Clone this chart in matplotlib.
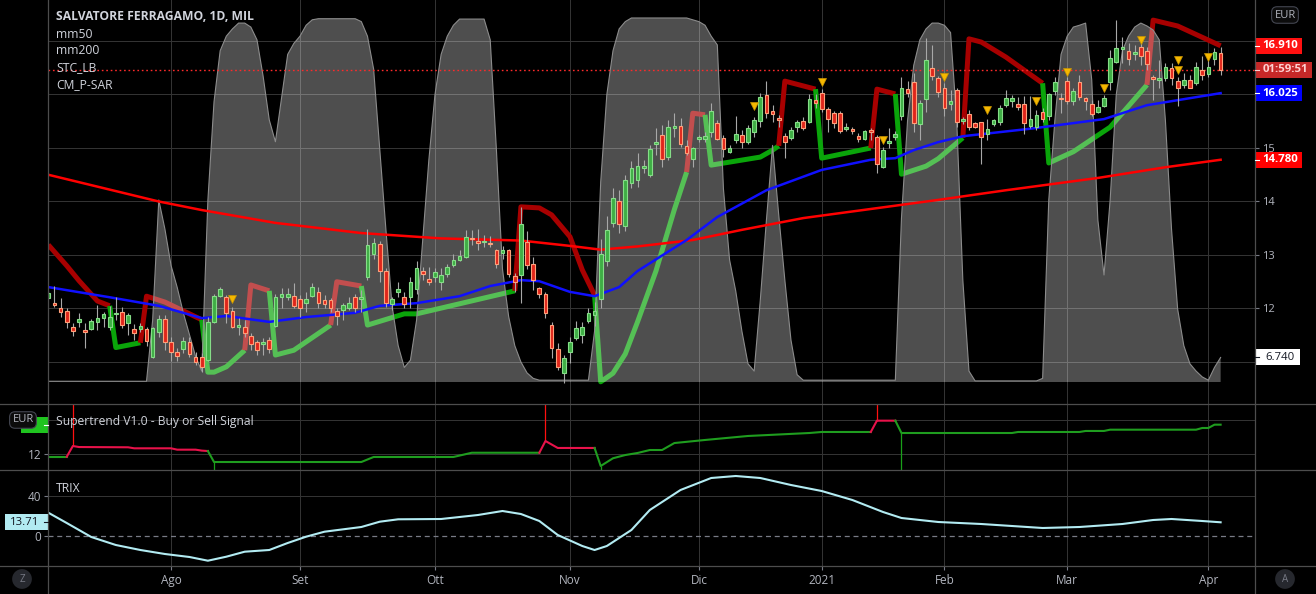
import matplotlib
matplotlib.use('Agg')
import matplotlib.pyplot as plt
import matplotlib.transforms as mtransforms
from matplotlib.patches import Rectangle
from matplotlib.lines import Line2D
import numpy as np
import pandas as pd

W, H = 1316, 594
plt.rcParams['font.family'] = ['Open Sans', 'DejaVu Sans']

# ---------------------------------------------------------------- data
holidays = ['2020-12-24', '2020-12-25', '2020-12-31', '2021-01-01', '2021-04-02', '2021-04-05']
month_names = {1: '2021', 2: 'Feb', 3: 'Mar', 4: 'Apr', 8: 'Ago', 9: 'Set', 10: 'Ott', 11: 'Nov', 12: 'Dic'}

opens = [
    12.20, 12.09, 12.01, 11.95, 11.65, 11.75, 11.59, 11.61, 11.75, 11.82, 11.65, 11.89,
    11.94, 11.72, 11.61, 11.61, 11.61, 11.09, 11.57, 11.80, 11.38, 11.18, 11.24, 11.38,
    11.09, 11.09, 11.04, 11.75, 12.24, 12.21, 11.96, 11.66, 11.65, 11.49, 11.37, 11.34,
    11.42, 11.68, 12.22, 12.22, 12.23, 12.17, 12.10, 12.24, 12.30, 12.15, 12.15, 11.96,
    11.97, 12.01, 12.21, 12.18, 12.59, 13.02, 13.21, 12.71, 12.08, 12.30, 12.21, 12.21,
    12.36, 12.71, 12.56, 12.58, 12.50, 12.64, 12.81, 12.91, 12.97, 13.32, 13.25, 13.24,
    13.22, 13.09, 13.04, 13.09, 12.61, 12.63, 13.25, 12.84, 12.38, 12.28, 11.69, 11.24,
    10.79, 11.18, 11.44, 11.50, 11.77, 11.87, 12.17, 12.89, 13.59, 14.01, 13.55, 14.35,
    14.41, 14.62, 14.50, 15.08, 15.24, 14.84, 15.38, 15.41, 15.04, 14.79, 15.17, 15.17,
    15.29, 15.46, 15.18, 14.93, 15.14, 15.24, 15.11, 15.29, 15.51, 15.99, 15.69, 15.55,
    15.23, 15.19, 15.40, 15.50, 15.49, 15.90, 16.03, 15.72, 15.65, 15.65, 15.35, 15.35,
    15.23, 15.16, 15.33, 15.21, 14.65, 15.09, 15.20, 15.59, 16.10, 16.23, 15.44, 15.91,
    16.49, 16.30, 16.12, 15.83, 16.08, 15.50, 15.63, 15.46, 15.48, 15.27, 15.44, 15.48,
    15.80, 15.87, 15.83, 15.83, 15.41, 15.39, 15.68, 15.59, 16.07, 15.93, 16.25, 15.87,
    16.23, 15.93, 15.83, 15.67, 15.79, 16.24, 16.61, 16.85, 16.82, 16.76, 16.88, 16.82,
    16.32, 16.28, 16.30, 16.49, 16.25, 16.18, 16.27, 16.21, 16.46, 16.38, 16.66, 16.78,
]
highs = [
    12.32, 12.42, 12.19, 12.00, 11.72, 11.91, 11.72, 11.80, 12.07, 11.94, 12.04, 12.22,
    12.03, 11.91, 11.71, 11.72, 11.66, 11.66, 11.88, 11.88, 11.47, 11.26, 11.47, 11.47,
    11.19, 11.16, 11.85, 12.28, 12.41, 12.25, 12.03, 11.82, 11.78, 11.54, 11.42, 11.44,
    11.47, 12.27, 12.38, 12.38, 12.47, 12.25, 12.31, 12.47, 12.40, 12.25, 12.19, 12.00,
    12.10, 12.22, 12.28, 12.35, 13.48, 13.31, 13.27, 12.75, 12.22, 12.50, 12.31, 12.59,
    12.88, 12.77, 12.77, 12.75, 12.75, 12.84, 13.02, 13.09, 13.47, 13.47, 13.48, 13.37,
    13.36, 13.12, 13.17, 13.12, 12.67, 13.90, 13.45, 12.96, 12.41, 12.31, 11.75, 11.36,
    11.13, 11.47, 11.77, 11.75, 12.00, 12.13, 13.29, 13.73, 14.25, 14.21, 14.50, 14.75,
    14.90, 14.78, 15.06, 15.37, 15.43, 15.52, 15.65, 15.56, 15.15, 15.02, 15.25, 15.30,
    15.85, 15.52, 15.24, 15.05, 15.59, 15.34, 15.43, 15.58, 16.02, 16.26, 15.80, 15.62,
    15.28, 15.40, 15.52, 15.58, 16.00, 16.00, 16.10, 15.77, 15.69, 15.69, 15.47, 15.39,
    15.28, 15.34, 15.37, 15.24, 15.01, 15.37, 15.31, 16.33, 16.25, 16.40, 15.90, 17.05,
    16.93, 16.35, 16.21, 16.08, 16.12, 15.58, 15.71, 15.49, 15.49, 15.55, 15.55, 15.80,
    16.08, 15.99, 15.96, 15.97, 15.97, 15.71, 15.74, 16.02, 16.33, 16.02, 16.33, 16.13,
    16.36, 15.96, 15.90, 15.90, 15.99, 16.83, 17.39, 17.08, 16.96, 16.93, 16.96, 16.89,
    16.36, 16.64, 16.58, 16.58, 16.33, 16.40, 16.36, 16.61, 16.71, 16.68, 16.86, 16.88,
]
lows = [
    12.17, 12.02, 11.85, 11.63, 11.49, 11.66, 11.26, 11.60, 11.59, 11.66, 11.60, 11.79,
    11.63, 11.50, 11.42, 11.57, 11.29, 11.07, 11.47, 11.22, 11.01, 11.01, 11.16, 11.10,
    10.94, 10.82, 11.01, 11.72, 12.22, 11.72, 11.63, 11.50, 11.47, 11.22, 11.13, 11.13,
    11.16, 11.66, 12.00, 12.16, 12.00, 11.84, 11.94, 12.22, 12.00, 12.00, 11.94, 11.69,
    11.79, 11.97, 11.94, 11.94, 12.53, 12.92, 12.50, 12.03, 11.97, 12.22, 12.00, 12.00,
    12.28, 12.53, 12.44, 12.50, 12.35, 12.58, 12.77, 12.88, 12.94, 13.19, 13.09, 13.15,
    13.15, 12.75, 12.92, 12.59, 12.31, 12.10, 12.73, 12.35, 12.19, 11.82, 11.08, 10.85,
    10.60, 10.99, 11.41, 11.36, 11.73, 11.67, 12.00, 12.79, 13.53, 13.41, 13.45, 14.25,
    14.28, 14.53, 14.46, 14.87, 14.65, 14.78, 15.21, 15.02, 14.87, 14.65, 15.12, 15.12,
    15.21, 15.15, 14.84, 14.90, 15.09, 15.00, 15.07, 15.21, 15.40, 15.56, 15.49, 15.40,
    14.81, 15.15, 15.30, 15.34, 15.47, 15.75, 15.68, 15.29, 15.37, 15.28, 15.31, 15.26,
    15.11, 15.15, 15.15, 14.53, 14.62, 15.00, 15.15, 15.52, 15.95, 15.30, 15.15, 15.68,
    16.28, 15.95, 15.59, 15.71, 15.40, 15.45, 15.34, 15.37, 14.71, 15.15, 15.41, 15.43,
    15.77, 15.77, 15.71, 15.27, 15.37, 15.34, 15.49, 15.52, 15.99, 15.65, 15.83, 15.80,
    15.90, 15.71, 15.59, 15.65, 15.77, 16.08, 16.58, 16.58, 16.55, 16.64, 16.55, 16.46,
    15.90, 16.12, 16.25, 16.18, 15.79, 16.12, 16.12, 16.18, 16.27, 16.33, 16.55, 16.36,
]
closes = [
    12.29, 12.07, 11.93, 11.74, 11.58, 11.80, 11.57, 11.77, 11.82, 11.89, 11.85, 11.91,
    11.69, 11.88, 11.54, 11.67, 11.40, 11.63, 11.80, 11.38, 11.18, 11.12, 11.40, 11.15,
    11.00, 10.90, 11.75, 12.23, 12.36, 11.92, 11.66, 11.69, 11.54, 11.34, 11.22, 11.36,
    11.24, 12.22, 12.28, 12.28, 12.05, 12.00, 12.17, 12.41, 12.10, 12.08, 12.01, 11.86,
    12.07, 12.10, 12.01, 12.20, 13.19, 13.23, 12.71, 12.10, 12.18, 12.36, 12.08, 12.50,
    12.75, 12.64, 12.49, 12.68, 12.63, 12.77, 12.91, 12.98, 13.34, 13.29, 13.23, 13.26,
    13.20, 12.84, 13.09, 12.64, 12.50, 13.58, 12.81, 12.53, 12.28, 11.91, 11.26, 10.90,
    11.07, 11.37, 11.63, 11.66, 11.91, 11.95, 13.02, 13.47, 14.06, 13.57, 14.40, 14.62,
    14.66, 14.66, 14.98, 15.10, 14.79, 15.39, 15.40, 15.07, 14.90, 15.00, 15.20, 15.22,
    15.69, 15.17, 14.98, 15.00, 15.26, 15.11, 15.37, 15.52, 15.95, 15.66, 15.63, 15.53,
    15.12, 15.34, 15.48, 15.37, 15.91, 15.85, 15.72, 15.54, 15.47, 15.32, 15.39, 15.31,
    15.16, 15.32, 15.29, 14.70, 14.96, 15.13, 15.27, 16.12, 16.02, 15.46, 15.84, 16.64,
    16.35, 16.05, 15.74, 15.88, 15.49, 15.54, 15.40, 15.39, 15.21, 15.35, 15.52, 15.74,
    15.93, 15.93, 15.76, 15.46, 15.55, 15.61, 15.54, 16.00, 16.23, 15.91, 15.88, 16.07,
    15.96, 15.88, 15.64, 15.77, 15.93, 16.69, 16.86, 16.88, 16.66, 16.80, 16.72, 16.57,
    16.29, 16.30, 16.52, 16.30, 16.12, 16.27, 16.13, 16.52, 16.36, 16.51, 16.80, 16.46,
]

# moving averages (read at their bends)
mm50_idx = [0, 10, 18, 25, 29, 36, 42, 50, 54, 60, 67, 72, 77, 80, 85, 89, 93, 96,
            104, 109, 117, 126, 134, 138, 141, 145, 149, 160, 172, 179, 191]
mm50_val = [12.40, 12.21, 12.05, 11.82, 11.86, 11.75, 11.84, 11.92, 12.05, 12.10, 12.23,
            12.42, 12.53, 12.51, 12.31, 12.23, 12.40, 12.70, 13.28, 13.71, 14.21, 14.59,
            14.78, 14.81, 14.96, 15.11, 15.22, 15.36, 15.54, 15.80, 16.025]
mm200_idx = [0, 18, 25, 37, 51, 64, 77, 85, 90, 96, 105, 113, 123, 134, 145, 156, 171, 182, 191]
mm200_val = [14.50, 14.00, 13.84, 13.60, 13.41, 13.31, 13.27, 13.17, 13.10, 13.16, 13.28,
             13.47, 13.69, 13.86, 14.03, 14.21, 14.44, 14.64, 14.78]

# CM_P-SAR (1 = below price / green, 0 = above price / red)
psar_idx = [0, 3, 5, 8, 10, 11, 15, 16, 19, 25, 26, 27, 29, 32, 33, 36, 37, 40, 46, 47, 51,
            52, 58, 60, 76, 77, 80, 82, 85, 87, 89, 90, 92, 94, 96, 99, 102, 104, 105, 107,
            108, 116, 118, 119, 120, 125, 126, 134, 135, 138, 139, 143, 145, 149, 150, 152,
            156, 162, 163, 167, 173, 179, 180, 184, 191]
psar_val = [13.19, 12.80, 12.52, 12.14, 12.05, 11.27, 11.36, 12.23, 12.12, 11.79, 10.81,
            10.81, 10.91, 11.22, 12.44, 12.33, 11.13, 11.22, 11.69, 12.50, 12.42, 11.69,
            11.90, 11.90, 12.33, 13.90, 13.88, 13.75, 13.34, 12.72, 12.25, 10.63, 10.79,
            11.15, 11.75, 12.70, 13.85, 14.55, 15.65, 15.62, 14.68, 14.83, 14.96, 15.04,
            16.25, 16.10, 14.81, 15.00, 16.10, 16.01, 14.51, 14.66, 14.80, 15.19, 17.04,
            16.98, 16.70, 16.21, 14.72, 14.93, 15.39, 16.18, 17.39, 17.28, 16.91]
psar_up = [0, 0, 0, 0, 0, 1, 1, 0, 0, 0, 1, 1, 1, 1, 0, 0, 1, 1, 1, 0, 0,
           1, 1, 1, 1, 0, 0, 0, 0, 0, 0, 1, 1, 1, 1, 1, 1, 1, 0, 0,
           1, 1, 1, 1, 0, 0, 1, 1, 0, 0, 1, 1, 1, 1, 0, 0,
           0, 0, 1, 1, 1, 1, 0, 0, 0]

# STC_LB, one value per bar (0..100)
stc = [
    0.2, 0.2, 0.2, 0.2, 0.2, 0.2, 0.2, 0.2, 0.2, 0.2, 0.2, 0.2, 0.2, 0.2, 0.2, 0.2,
    0.2, 17, 50, 42, 32, 26, 19, 13, 7, 3, 50, 77, 91, 95, 97, 98.6,
    98.6, 97.5, 94, 84, 72, 66, 78, 90, 93, 95, 98, 99.5, 99.8, 99.8, 99.8, 99.8,
    99.8, 99.8, 99.8, 99, 95, 86, 64, 42, 21, 10, 4, 6, 17, 39, 61, 79,
    90, 95, 98, 99.7, 99.7, 99.7, 99.7, 99.7, 94, 64, 31, 18, 10, 5.5, 2.5, 1,
    0.5, 0.5, 0.5, 0.5, 0.5, 0.5, 0.5, 0.5, 0.5, 14, 55, 79, 91, 97, 99, 100,
    100, 100, 100, 100, 100, 100, 100, 100, 100, 99.5, 99, 98, 95, 92.6, 53, 33.5,
    25, 14, 5, 3, 22.5, 44.5, 65, 46, 28, 11.5, 2, 0.5, 0.5, 0.5, 0.5, 0.5,
    0.5, 0.5, 0.5, 0.5, 0.5, 0.5, 0.5, 0.5, 0.5, 0.5, 0.5, 45, 72, 87, 94, 97,
    98.6, 98.6, 98, 96, 72, 28, 3, 0.3, 0.3, 0.3, 0.3, 0.3, 0.3, 0.3, 0.3, 0.3,
    0.3, 0.3, 1, 50, 72, 90, 95, 97.5, 98, 98.6, 83, 44.5, 29.4, 50, 79, 91,
    95, 97.5, 98.6, 97.8, 96.7, 94, 72, 42, 20, 10, 5, 3, 1.4, 0.5, 4, 6.74,
]
stc_signal_idx = [30, 115, 126, 136, 146, 153, 161, 166, 172, 178, 184, 184, 189]
stc_signal_val = [12.18, 15.79, 16.23, 15.14, 16.33, 15.71, 15.88, 16.42, 16.13, 17.01,
                  16.64, 16.45, 16.70]

# Supertrend V1.0
st_idx = [0, 3, 4, 5, 13, 14, 20, 21, 24, 25, 26, 27, 51, 53, 66, 69, 80, 81, 83, 89, 90,
          92, 94, 96, 98, 100, 102, 107, 114, 124, 126, 134, 135, 138, 139, 157, 158, 168,
          169, 172, 173, 187, 188, 189, 190, 191]
st_val = [11.68, 11.68, 12.94, 12.82, 12.79, 12.67, 12.67, 12.51, 12.51, 12.40, 12.35,
          11.06, 11.06, 11.65, 11.65, 12.15, 12.15, 13.53, 12.71, 12.71, 10.59, 11.50,
          11.88, 12.12, 12.47, 12.47, 13.29, 13.65, 14.12, 14.47, 14.59, 14.59, 15.92,
          15.92, 14.47, 14.47, 14.59, 14.59, 14.71, 14.71, 14.86, 14.86, 15.06, 15.06,
          15.45, 15.45]
st_up = [1, 1, 0, 0, 0, 0, 0, 0, 0, 0, 0, 1, 1, 1, 1, 1, 1, 0, 0, 0, 1,
         1, 1, 1, 1, 1, 1, 1, 1, 1, 1, 1, 0, 0, 1, 1, 1, 1,
         1, 1, 1, 1, 1, 1, 1, 1]
st_buy_idx = [27, 90, 139]
st_sell_idx = [4, 81, 135]

# TRIX (read at its bends)
trix_idx = [0, 3, 7, 11, 15, 19, 23, 26, 29, 32, 36, 39, 42, 45, 51, 54, 57, 64, 70, 74,
            77, 80, 83, 87, 89, 91, 95, 98, 103, 108, 112, 116, 121, 126, 131, 136, 139,
            145, 152, 162, 168, 175, 180, 183, 188, 191]
trix_val = [23.3, 13, -1, -9, -14, -18, -21, -24.7, -20.7, -15.7, -14, -7, -0.7, 4.3, 9,
            14.3, 16.7, 17, 21, 25, 22, 15, 1, -10, -14, -10, 6, 26, 46, 58, 60, 58, 51,
            45, 36, 24, 18, 14, 12, 8, 9, 12, 16, 17, 15, 13.71]

price_ticks = [11, 12, 13, 14, 15, 16, 17]
price_tick_labels = ['', '12', '13', '14', '15', '', '']   # the others sit under price tags

# ---------------------------------------------------------------- figure
BG = '#000000'
GRID = '#333333'
SEP = '#4d4d4d'
TXT = '#d1d4dc'
AXT = '#b2b5be'

fig = plt.figure(figsize=(W / 100, H / 100), dpi=100, facecolor=BG)


def px_axes(x0, y0, x1, y1):
    a = fig.add_axes([x0 / W, 1 - y1 / H, (x1 - x0) / W, (y1 - y0) / H])
    a.set_facecolor('none')
    for s in a.spines.values():
        s.set_visible(False)
    return a


ax = px_axes(48, 0, 1255, 404)
ax_st = px_axes(48, 404, 1255, 470)
ax_tx = px_axes(48, 470, 1255, 566)

dates = pd.bdate_range('2020-07-06', '2021-04-07')
dates = dates[~dates.isin(pd.to_datetime(holidays))]
n = len(dates)
x = np.arange(n)
month_idx = [i for i in range(1, n) if dates[i].month != dates[i - 1].month]
month_lab = [month_names[dates[i].month] for i in month_idx]

for a in (ax, ax_st, ax_tx):
    a.set_xlim(-0.05, 196.6)
    for m in month_idx:
        a.axvline(m, color=GRID, lw=0.75, zorder=0)

o = np.array(opens)
h = np.array(highs)
l = np.array(lows)
c = np.array(closes)


def draw_runs(a, xs, ys, flags, colors, **kw):
    start = 0
    for k in range(1, len(xs) + 1):
        if k == len(xs) or flags[k] != flags[start]:
            s = max(start - 1, 0)
            a.plot(xs[s:k], ys[s:k], color=colors[flags[start]], **kw)
            start = k


# ---- main pane
ax.set_ylim(10.215, 17.766)
for p in price_ticks:
    ax.axhline(p, color=GRID, lw=0.75, zorder=0)

draw_runs(ax, psar_idx, psar_val, psar_up, {0: '#a80000', 1: '#0aa50a'},
          lw=3.6, solid_capstyle='butt', solid_joinstyle='round', zorder=1)

# STC lives on its own 0..100 scale, overlaid on the price pane
stc_tr = mtransforms.Affine2D().scale(1, 3.64 / 53.5).translate(0, 17 - 341 / 53.5) + ax.transData
ax.fill_between(x, stc, 0, facecolor='white', alpha=0.31, lw=0, zorder=2, transform=stc_tr)
ax.plot(x, stc, color='#8c8c8c', lw=0.8, zorder=2, transform=stc_tr)

ax.plot(mm200_idx, mm200_val, color='#ff0000', lw=1.8, zorder=3)
ax.plot(mm50_idx, mm50_val, color='#1010ff', lw=1.8, zorder=3)
ax.axhline(c[-1], color='#ff2a2a', ls=(0, (1.2, 2)), lw=1, zorder=3)

up = c >= o
ax.vlines(x, l, h, color='#a8a8a8', lw=0.8, zorder=4)
bot = np.minimum(o, c)
hgt = np.maximum(np.abs(c - o), 0.03)
ax.bar(x[up], hgt[up], bottom=bot[up], width=0.6, color='#3fae45', edgecolor='#86dd88',
       linewidth=0.8, zorder=5)
ax.bar(x[~up], hgt[~up], bottom=bot[~up], width=0.6, color='#e0261b', edgecolor='#ffa07a',
       linewidth=0.8, zorder=5)
ax.plot(stc_signal_idx, stc_signal_val, ls='none', marker='v', ms=6, color='#f5b800',
        mec='#c99400', mew=0.5, zorder=6)

ax.yaxis.tick_right()
ax.set_yticks(price_ticks)
ax.set_yticklabels(price_tick_labels)
ax.tick_params(axis='y', colors='#787b86', labelcolor=AXT, labelsize=8, length=3, pad=2)
ax.set_xticks([])

# ---- supertrend pane
ax_st.set_ylim(10.12, 17.88)
for p in (12, 16):
    ax_st.axhline(p, color=GRID, lw=0.75, zorder=0)
for i in st_sell_idx:
    ax_st.vlines(i, st_val[st_idx.index(i)], 17.88, color='#ff1010', lw=0.9, zorder=2)
for i in st_buy_idx:
    ax_st.vlines(i, 10.12, st_val[st_idx.index(i)], color='#19a019', lw=0.9, zorder=2)
draw_runs(ax_st, st_idx, st_val, st_up, {0: '#e8124a', 1: '#1f9d1f'}, lw=1.5, zorder=3)
ax_st.set_yticks([12, 16])
ax_st.set_yticklabels(['12', ''])
ax_st.tick_params(axis='y', colors='#787b86', labelcolor=AXT, labelsize=8.5, length=3, pad=2)
ax_st.set_xticks([])

# ---- TRIX pane
ax_tx.set_ylim(-30, 66)
ax_tx.axhline(40, color=GRID, lw=0.75, zorder=0)
ax_tx.axhline(0, color='#787b86', ls=(0, (4, 3)), lw=0.9, zorder=1)
ax_tx.plot(trix_idx, trix_val, color='#b2ebf2', lw=1.5, zorder=3)
ax_tx.set_yticks([0, 40])
ax_tx.tick_params(axis='y', colors='#787b86', labelcolor=AXT, labelsize=8.5, length=3, pad=2)
ax_tx.set_xticks(month_idx)
ax_tx.set_xticklabels(month_lab)
ax_tx.tick_params(axis='x', colors='#787b86', labelcolor=AXT, labelsize=8.5, length=3, pad=3)

# ---- separators
for yy in (404, 470, 566):
    fig.add_artist(Line2D([0, 1], [1 - yy / H] * 2, color=SEP, lw=0.9))
for xx in (48, 1255):
    fig.add_artist(Line2D([xx / W] * 2, [0, 1], color=SEP, lw=0.9))


# ---- price tags
def tag(value, text, fc, tc, x0, w, trans, left=False, bold=True):
    y = trans.transform((0, value))[1]
    fig.add_artist(Rectangle((x0 / W, (y - 8) / H), w / W, 16 / H, transform=fig.transFigure,
                             facecolor=fc, edgecolor='none'))
    weight = 'bold' if bold else 'normal'
    if left:
        fig.add_artist(Line2D([(x0 + w - 4) / W, (x0 + w) / W], [y / H] * 2, color=tc, lw=0.8))
        fig.text((x0 + w / 2 - 2) / W, y / H, text, color=tc, ha='center', va='center',
                 fontsize=8.2, fontweight=weight)
    else:
        fig.add_artist(Line2D([x0 / W, (x0 + 4) / W], [y / H] * 2, color=tc, lw=0.8))
        fig.text((x0 + w / 2 + 2) / W, y / H, text, color=tc, ha='center', va='center',
                 fontsize=8.2, fontweight=weight)


tag(14.78, '14.780', '#ff0000', 'white', 1255, 47, ax.transData)
tag(16.025, '16.025', '#0000ff', 'white', 1255, 47, ax.transData)
tag(c[-1], '01:59:51', '#c62828', '#ffd0d0', 1255, 57, ax.transData)
tag(16.91, '16.910', '#ff1010', 'white', 1255, 47, ax.transData)
tag(stc[-1], '6.740', 'white', '#131722', 1255, 45, stc_tr, bold=False)
tag(st_val[-1], '', '#1fc41f', 'white', 21, 27, ax_st.transData, left=True)
tag(trix_val[-1], '13.71', '#b2ebf2', '#131722', 5, 43, ax_tx.transData, left=True, bold=False)

badge = dict(boxstyle='round,pad=0.25,rounding_size=0.5', fc='#0c0c0c', ec='#434651', lw=0.8)
fig.text(1285 / W, 1 - 15 / H, 'EUR', color=AXT, ha='center', va='center', fontsize=8, bbox=badge)
fig.text(23 / W, 1 - 420 / H, 'EUR', color=AXT, ha='center', va='center', fontsize=8, bbox=badge)
circ = dict(boxstyle='circle,pad=0.45', fc='#26282e', ec='none')
fig.text(22 / W, 1 - 579 / H, 'Z', color='#787b86', ha='center', va='center', fontsize=7, bbox=circ)
fig.text(1285 / W, 1 - 579 / H, 'A', color='#787b86', ha='center', va='center', fontsize=7, bbox=circ)

# ---- legends
fig.text(56 / W, 1 - 17 / H, 'SALVATORE FERRAGAMO, 1D, MIL', color=TXT, fontsize=8.7,
         fontweight='bold', va='center')
for k, name in enumerate(['mm50', 'mm200', 'STC_LB', 'CM_P-SAR']):
    fig.text(56 / W, 1 - (34 + 17 * k) / H, name, color=TXT, fontsize=8.7, va='center')
fig.text(56 / W, 1 - 421 / H, 'Supertrend V1.0 - Buy or Sell Signal', color=TXT, fontsize=8.7,
         va='center')
fig.text(56 / W, 1 - 488 / H, 'TRIX', color=TXT, fontsize=8.7, va='center')

fig.savefig('out.png', dpi=100, facecolor=BG)
